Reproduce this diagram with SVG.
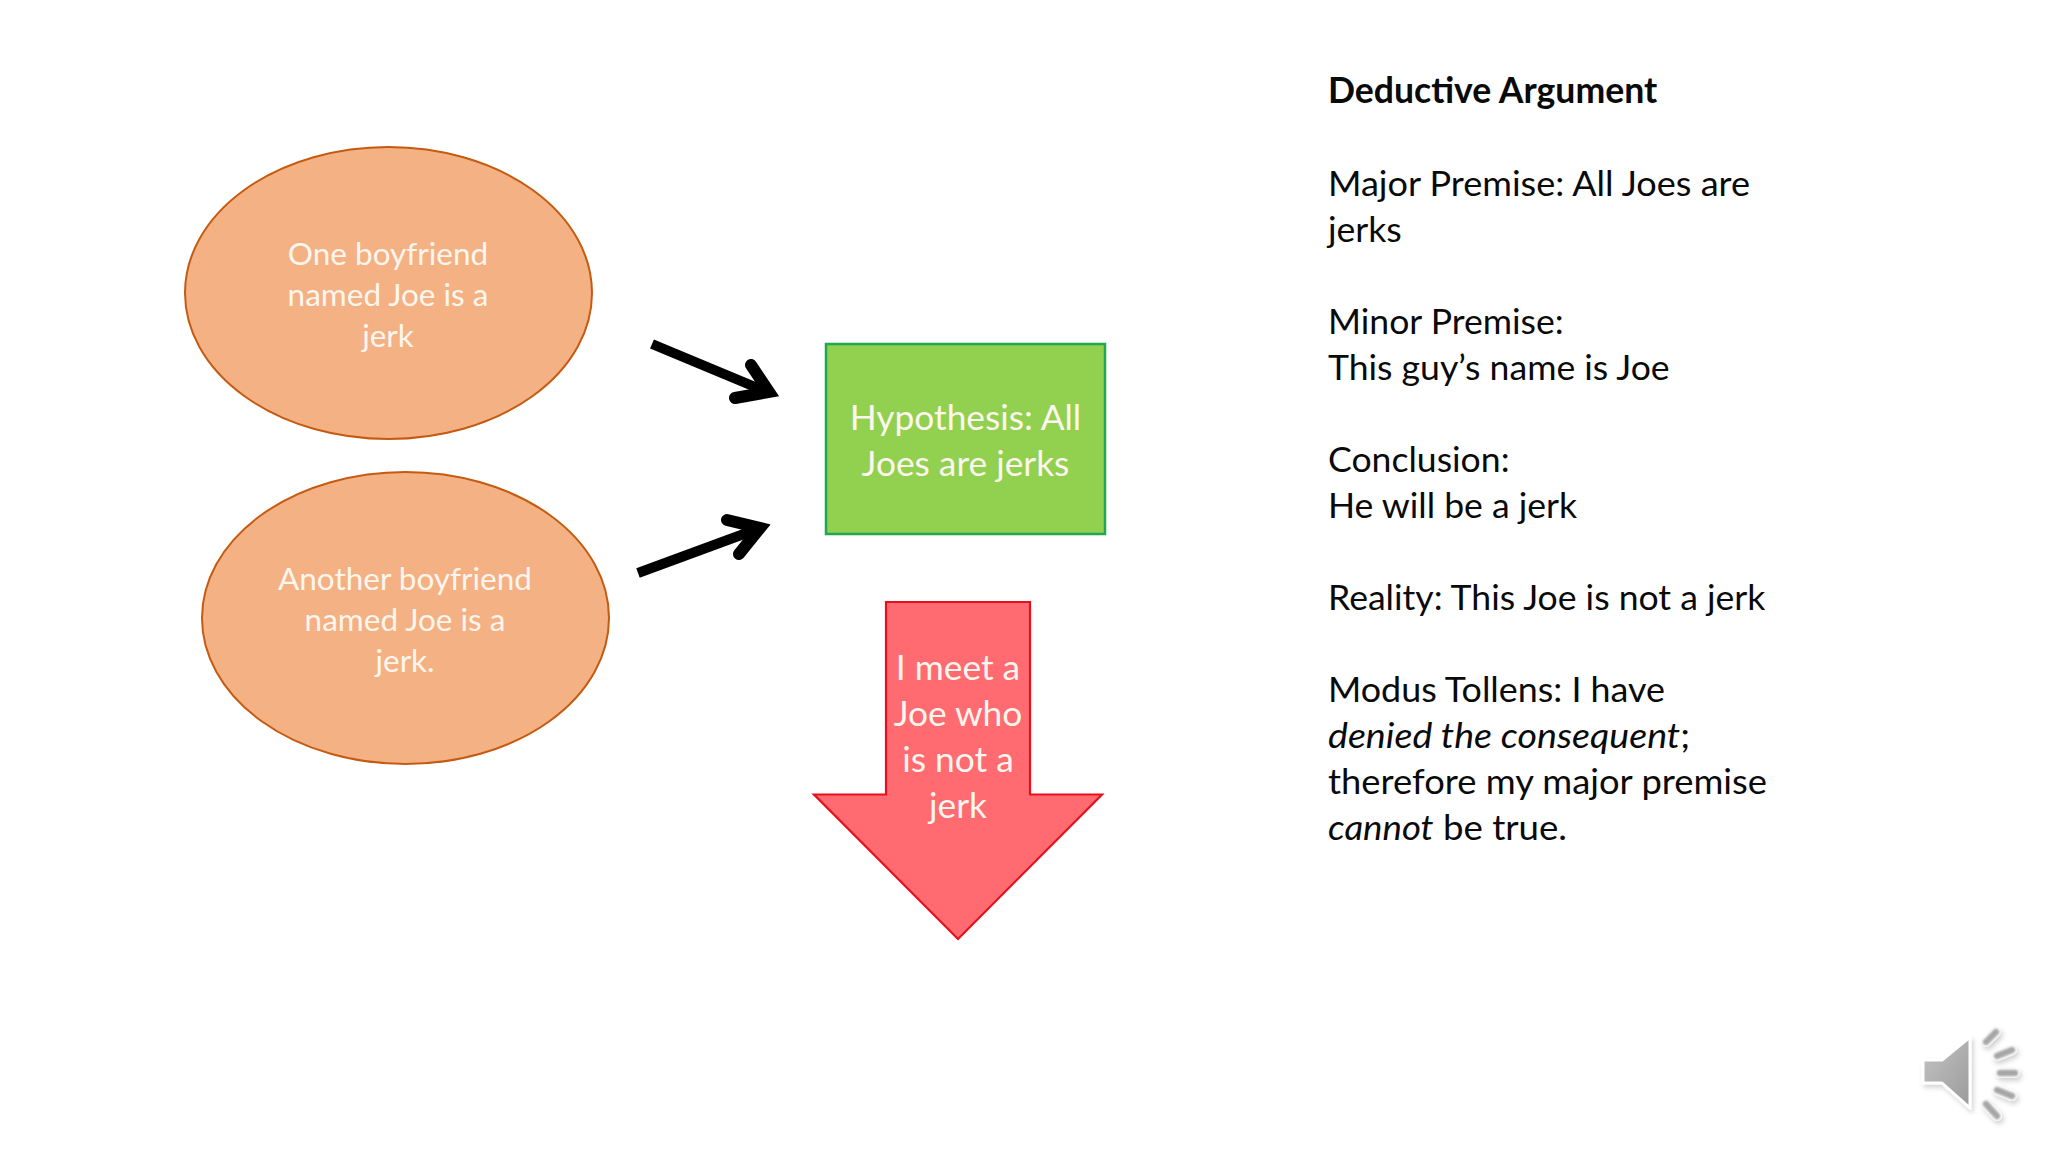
<svg xmlns="http://www.w3.org/2000/svg" width="2048" height="1152" viewBox="0 0 2048 1152">
<defs>
<style>
text{font-family:"Lato","Carlito","Open Sans",sans-serif}
.w{fill:#fdf6ee;text-anchor:middle}
.s{font-size:31.500px}
.m{font-size:35.300px}
.b{font-size:35.600px;fill:#0a0a0a}
.oval{fill:#f4b183;stroke:#c55a11;stroke-width:2}
.arr{fill:none;stroke:#000;stroke-width:10;stroke-linejoin:miter}
.head{fill:none;stroke:#000;stroke-width:12;stroke-linecap:round}
.ray{stroke:#a6a6a6;stroke-width:6.500;stroke-linecap:round;fill:none}
.rayo{stroke:#fff;stroke-width:10;stroke-linecap:round;fill:none}
</style>
<linearGradient id="sp" x1="0" y1="0" x2="1" y2="1"><stop offset="0" stop-color="#c4c4c4"/><stop offset="1" stop-color="#9a9a9a"/></linearGradient>
<filter id="soft" x="-20%" y="-20%" width="140%" height="140%"><feGaussianBlur stdDeviation="0.800"/></filter>
<filter id="shadow" x="-20%" y="-20%" width="140%" height="140%"><feDropShadow dx="2" dy="3" stdDeviation="2.500" flood-color="#000" flood-opacity="0.180"/></filter>
</defs>
<rect width="2048" height="1152" fill="#fff"/>
<g id="node-boyfriend-1"><ellipse class="oval" cx="388.500" cy="293" rx="203.500" ry="146"/>
<text class="w s" x="388" y="264.500">One boyfriend</text><text class="w s" x="388" y="305.500">named Joe is a</text><text class="w s" x="388" y="346.500">jerk</text></g>
<g id="node-boyfriend-2"><ellipse class="oval" cx="405.500" cy="618" rx="203.500" ry="146"/>
<text class="w s" x="405" y="589.500">Another boyfriend</text><text class="w s" x="405" y="630.500">named Joe is a</text><text class="w s" x="405" y="671.500">jerk.</text></g>
<g id="node-hypothesis"><rect x="826" y="344" width="279" height="190" fill="#92d050" stroke="#1fa84f" stroke-width="2.500"/>
<text class="w m" x="965.500" y="429.500">Hypothesis: All</text><text class="w m" x="965.500" y="475.500">Joes are jerks</text></g>
<g id="node-meet"><polygon points="886,602 1030,602 1030,794.500 1102,794.500 958,939 814,794.500 886,794.500" fill="#ff6b70" stroke="#e8101c" stroke-width="2.200"/>
<text class="w m" x="958" y="679.500">I meet a</text><text class="w m" x="958" y="725.500">Joe who</text><text class="w m" x="958" y="771.500">is not a</text><text class="w m" x="958" y="817.500">jerk</text></g>
<g id="connectors">
<path class="arr" d="M652 344 L760 389"/><path class="head" d="M751 365 L769 392 L735 398"/>
<path class="arr" d="M638 573 L752 531"/><path class="head" d="M727 520 L760 528 L739 554"/>
</g>
<g id="node-argument">
<text class="b" x="1328" y="103" font-weight="700">Deductive Argument</text>
<text class="b" x="1328" y="195.500" textLength="422" lengthAdjust="spacingAndGlyphs">Major Premise: All Joes are</text>
<text class="b" x="1328" y="241.500">jerks</text>
<text class="b" x="1328" y="333.500">Minor Premise:</text>
<text class="b" x="1328" y="379.500">This guy’s name is Joe</text>
<text class="b" x="1328" y="471.500">Conclusion:</text>
<text class="b" x="1328" y="517.500">He will be a jerk</text>
<text class="b" x="1328" y="609.500">Reality: This Joe is not a jerk</text>
<text class="b" x="1328" y="701.500" textLength="337" lengthAdjust="spacingAndGlyphs">Modus Tollens: I have</text>
<text class="b" x="1328" y="747.500" textLength="362" lengthAdjust="spacingAndGlyphs"><tspan font-style="italic">denied the consequent</tspan>;</text>
<text class="b" x="1328" y="793.500" textLength="439" lengthAdjust="spacingAndGlyphs">therefore my major premise</text>
<text class="b" x="1328" y="839.500" textLength="239" lengthAdjust="spacingAndGlyphs"><tspan font-style="italic">cannot</tspan> be true.</text>
</g>
<g id="node-speaker">
<g filter="url(#shadow)"><polygon points="1923,1060 1942,1060 1970,1037 1970,1108 1942,1083 1923,1083" fill="url(#sp)" stroke="#fff" stroke-width="3" stroke-linejoin="round"/>
<path class="rayo" d="M1986 1042L1996 1032M1997 1056L2012 1050M2000 1073L2015 1073M1997 1090L2012 1096M1986 1104L1997 1116"/></g>
<path class="ray" filter="url(#soft)" d="M1986 1042L1996 1032M1997 1056L2012 1050M2000 1073L2015 1073M1997 1090L2012 1096M1986 1104L1997 1116"/>
</g>
</svg>
